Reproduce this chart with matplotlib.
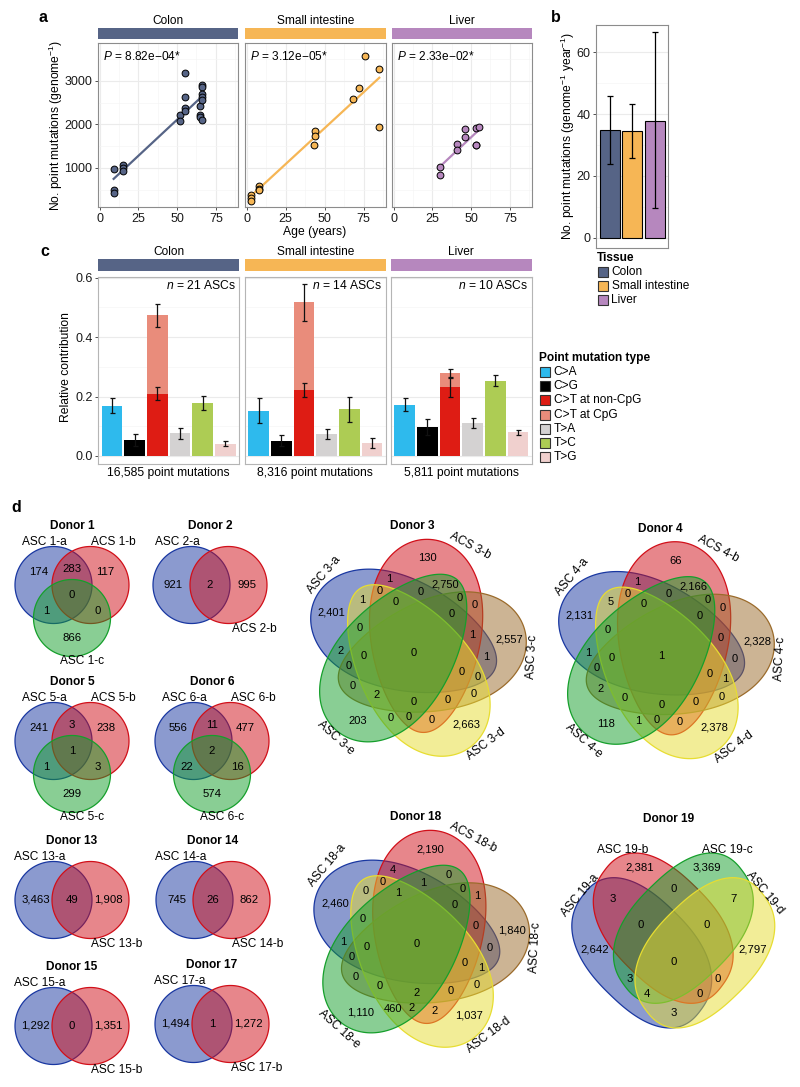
import numpy as np
import matplotlib
matplotlib.use('Agg')
import matplotlib.pyplot as plt
from matplotlib.patches import Polygon, Rectangle
from matplotlib.colors import to_rgba

plt.rcParams['font.family'] = ['Liberation Sans', 'DejaVu Sans']
plt.rcParams['mathtext.fontset'] = 'custom'
plt.rcParams['mathtext.rm'] = 'Liberation Sans'
plt.rcParams['mathtext.it'] = 'Liberation Sans:italic'
plt.rcParams['mathtext.bf'] = 'Liberation Sans:bold'

W, H = 800, 1087

# ---------------- data ----------------
tissues = ['Colon', 'Small intestine', 'Liver']
tissue_colors = ['#566486', '#F6B655', '#B687BE']
p_values = ['8.82e\u221204*', '3.12e\u221205*', '2.33e\u221202*']

# panel a: age vs number of point mutations per ASC
colon_age = [9, 9, 9, 15, 15, 15, 52, 52, 55, 55, 55, 55, 65, 65, 65, 66, 66, 66, 66, 66, 66]
colon_muts = [977, 504, 428, 1060, 990, 920, 2220, 2070, 3175, 2625, 2375, 2300,
              2427, 2221, 2168, 2908, 2855, 2702, 2641, 2565, 2107]
si_age = [3, 3, 3, 8, 8, 8, 43, 44, 44, 68, 72, 76, 85, 85]
si_muts = [389, 313, 252, 580, 527, 489, 1534, 1840, 1740, 2588, 2847, 3580, 3267, 1939]
liver_age = [30, 30, 41, 41, 46, 46, 53, 53, 53, 55]
liver_muts = [1015, 847, 1550, 1405, 1893, 1710, 1916, 1534, 1520, 1931]

# panel b: mutations per genome per year
rate_mean = [34.7, 34.4, 37.9]
rate_low = [23.8, 25.8, 9.6]
rate_high = [45.7, 43.2, 66.4]

# panel c: relative contribution of point mutation types
mut_types = ['C>A', 'C>G', 'C>T at non-CpG', 'C>T at CpG', 'T>A', 'T>C', 'T>G']
mut_colors = ['#2EBAED', '#000000', '#DE1C14', '#E98C7B', '#D4D2D2', '#ADCC54', '#F0D0CE']
n_ascs = [21, 14, 10]
n_point_muts = [16585, 8316, 5811]
colon_contrib = [0.169, 0.054, 0.209, 0.264, 0.076, 0.178, 0.042]
colon_sd = [0.025, 0.019, 0.022, 0.040, 0.018, 0.023, 0.010]
si_contrib = [0.153, 0.052, 0.222, 0.295, 0.073, 0.157, 0.043]
si_sd = [0.041, 0.019, 0.025, 0.063, 0.017, 0.042, 0.016]
liver_contrib = [0.172, 0.097, 0.231, 0.048, 0.112, 0.254, 0.080]
liver_sd = [0.022, 0.027, 0.033, 0.013, 0.017, 0.019, 0.008]

# panel d: shared mutations between ASCs of one donor
REG2 = ['A', 'B', 'AB']
REG3 = ['A', 'B', 'C', 'AB', 'AC', 'BC', 'ABC']
REG4 = ['A', 'B', 'C', 'D', 'AB', 'AC', 'AD', 'BC', 'BD', 'CD',
        'ABC', 'ABD', 'ACD', 'BCD', 'ABCD']
REG5 = ['A', 'B', 'C', 'D', 'E', 'AB', 'AC', 'AD', 'AE', 'BC', 'BD', 'BE', 'CD', 'CE', 'DE',
        'ABC', 'ABD', 'ABE', 'ACD', 'ACE', 'ADE', 'BCD', 'BCE', 'BDE', 'CDE',
        'ABCD', 'ABCE', 'ABDE', 'ACDE', 'BCDE', 'ABCDE']

donor1_sets = ['ASC 1-a', 'ACS 1-b', 'ASC 1-c']
donor1_counts = [174, 117, 866, 283, 1, 0, 0]
donor2_sets = ['ASC 2-a', 'ACS 2-b']
donor2_counts = [921, 995, 2]
donor5_sets = ['ASC 5-a', 'ACS 5-b', 'ASC 5-c']
donor5_counts = [241, 238, 299, 3, 1, 3, 1]
donor6_sets = ['ASC 6-a', 'ASC 6-b', 'ASC 6-c']
donor6_counts = [556, 477, 574, 11, 22, 16, 2]
donor13_sets = ['ASC 13-a', 'ASC 13-b']
donor13_counts = [3463, 1908, 49]
donor14_sets = ['ASC 14-a', 'ASC 14-b']
donor14_counts = [745, 862, 26]
donor15_sets = ['ASC 15-a', 'ASC 15-b']
donor15_counts = [1292, 1351, 0]
donor17_sets = ['ASC 17-a', 'ASC 17-b']
donor17_counts = [1494, 1272, 1]
donor3_sets = ['ASC 3-a', 'ACS 3-b', 'ASC 3-c', 'ASC 3-d', 'ASC 3-e']
donor3_counts = [2401, 130, 2557, 2663, 203, 1, 1, 1, 2, 0, 0, 2750, 0, 0, 0,
                 1, 0, 0, 0, 0, 0, 0, 0, 0, 2, 0, 0, 0, 0, 0, 0]
donor4_sets = ['ASC 4-a', 'ACS 4-b', 'ASC 4-c', 'ASC 4-d', 'ASC 4-e']
donor4_counts = [2131, 66, 2328, 2378, 118, 1, 0, 5, 1, 0, 0, 2166, 0, 2, 1,
                 0, 0, 0, 1, 0, 0, 0, 0, 0, 0, 0, 0, 0, 0, 0, 1]
donor18_sets = ['ASC 18-a', 'ACS 18-b', 'ASC 18-c', 'ASC 18-d', 'ASC 18-e']
donor18_counts = [2460, 2190, 1840, 1037, 1110, 4, 0, 0, 1, 1, 2, 0, 0, 0, 460,
                  0, 0, 1, 1, 0, 0, 0, 0, 2, 0, 0, 0, 1, 0, 2, 0]
donor19_sets = ['ASC 19-a', 'ASC 19-b', 'ASC 19-c', 'ASC 19-d']
donor19_counts = [2642, 2381, 3369, 2797, 3, 3, 3, 0, 0, 7, 0, 0, 4, 0, 0]

VBLUE, VRED, VGREEN, VYELLOW, VBROWN = '#1937A1', '#D10F19', '#159F2B', '#E7DD31', '#9B6B2B'

# ---------------- helpers ----------------
fig = plt.figure(figsize=(W / 100, H / 100), dpi=100)
ov = fig.add_axes([0, 0, 1, 1])
ov.set_xlim(0, W)
ov.set_ylim(H, 0)
ov.axis('off')


def px_axes(x0, y0, x1, y1):
    return fig.add_axes([x0 / W, 1 - y1 / H, (x1 - x0) / W, (y1 - y0) / H])


def facet_style(ax, border, xgrid=True):
    for s in ax.spines.values():
        s.set_color(border)
        s.set_linewidth(0.8)
    ax.tick_params(which='major', length=2.5, width=0.6, color='#333333',
                   labelsize=9.0, labelcolor='#1A1A1A', pad=1.5)
    ax.tick_params(which='minor', length=0)
    ax.grid(True, which='major', axis='both' if xgrid else 'y', color='#EBEBEB', lw=0.8)
    ax.grid(True, which='minor', axis='both' if xgrid else 'y', color='#F5F5F5', lw=0.5)
    ax.set_axisbelow(True)


def strip(x0, x1, y0, y1, color, label, text_y):
    sax = px_axes(x0, y0, x1, y1)
    sax.set_facecolor(color)
    sax.set_xticks([])
    sax.set_yticks([])
    for s in sax.spines.values():
        s.set_visible(False)
    ov.text((x0 + x1) / 2, text_y, label, ha='center', va='center', fontsize=8.6)


def legend_block(x, y, title, labels, colors, step):
    ov.text(x - 1, y, title, ha='left', va='center', fontsize=8.6, fontweight='bold')
    for j, (lab, col) in enumerate(zip(labels, colors)):
        yy = y + 14 + j * step
        ov.add_patch(Rectangle((x, yy - 5), 10, 10, fc=col, ec='#333333', lw=0.8))
        ov.text(x + 13.5, yy, lab, ha='left', va='center', fontsize=8.6)


# shapes: (cx, cy, a, b, angle, exponent, egg) -- egg widens the +u end
def shape_outline(s, n=300):
    cx, cy, a, b, ang, p, k = s
    t = np.linspace(0, 2 * np.pi, n)
    c, si = np.cos(t), np.sin(t)
    u = a * np.sign(c) * np.abs(c) ** (2 / p)
    v = b * np.sign(si) * np.abs(si) ** (2 / p) * (1 + k * u / a)
    r = np.deg2rad(ang)
    return cx + u * np.cos(r) - v * np.sin(r), cy + u * np.sin(r) + v * np.cos(r)


def shape_inside(s, X, Y):
    cx, cy, a, b, ang, p, k = s
    r = np.deg2rad(ang)
    dx, dy = X - cx, Y - cy
    u = dx * np.cos(r) + dy * np.sin(r)
    v = -dx * np.sin(r) + dy * np.cos(r)
    v = v / (1 + k * np.clip(u / a, -1, 1))
    return np.abs(u / a) ** p + np.abs(v / b) ** p < 1


def depth_map(lab):
    cur = lab > 0
    depth = np.zeros(lab.shape, int)
    step = 0
    while cur.any():
        step += 1
        depth[cur] = step
        nxt = cur.copy()
        for d in ((0, 1), (0, -1), (1, 0), (-1, 0), (1, 1), (1, -1), (-1, 1), (-1, -1)):
            nxt &= np.roll(cur, d, axis=(0, 1)) & (np.roll(lab, d, axis=(0, 1)) == lab)
        cur = nxt
    return depth


def venn_axes(cx, cy, hw, hh):
    ax = px_axes(cx - hw, cy - hh, cx + hw, cy + hh)
    ax.set_xlim(-hw, hw)
    ax.set_ylim(-hh, hh)
    ax.axis('off')
    return ax


def draw_venn(ax, shapes, cols, codes, counts, origin=(0, 0), scale=(1, 1), fs=8.2):
    ox, oy = origin
    sx, sy = scale
    for s, c in zip(shapes, cols):
        gx, gy = shape_outline(s)
        ax.add_patch(Polygon(np.c_[(gx - ox) * sx, (gy - oy) * sy], closed=True,
                             fc=to_rgba(c, 0.5), ec=c, lw=0.9))
    x0, x1 = ax.get_xlim()
    y0, y1 = ax.get_ylim()
    X, Y = np.meshgrid(np.arange(x0, x1, 0.5), np.arange(y0, y1, 0.5))
    GX, GY = X / sx + ox, Y / sy + oy
    lab = np.zeros(X.shape, int)
    for k, s in enumerate(shapes):
        lab |= shape_inside(s, GX, GY).astype(int) << k
    depth = depth_map(lab)
    for code, cnt in zip(codes, counts):
        bits = sum(1 << 'ABCDE'.index(ch) for ch in code)
        m = lab == bits
        if not m.any():
            continue
        top = m & (depth == depth[m].max())
        mx, my = X[top].mean(), Y[top].mean()
        i = np.argmin(np.where(top, (X - mx) ** 2 + (Y - my) ** 2, np.inf))
        ax.text(X.flat[i], Y.flat[i], f'{cnt:,}', ha='center', va='center', fontsize=fs)


# ---------------- panel a ----------------
facet_x = [(98, 238), (245, 386), (392, 532)]
ages = [colon_age, si_age, liver_age]
muts = [colon_muts, si_muts, liver_muts]
for i in range(3):
    x0, x1 = facet_x[i]
    ax = px_axes(x0, 43, x1, 207)
    facet_style(ax, '#8C8C8C')
    ax.set_xlim(-1.1, 89.3)
    ax.set_ylim(103, 3873)
    ax.set_xticks([0, 25, 50, 75])
    ax.set_xticks([12.5, 37.5, 62.5, 87.5], minor=True)
    ax.set_yticks([1000, 2000, 3000])
    ax.set_yticks([500, 1500, 2500, 3500], minor=True)
    if i > 0:
        ax.tick_params(axis='y', which='major', labelleft=False, length=0)
    x = np.array(ages[i], float)
    y = np.array(muts[i], float)
    k, b = np.polyfit(x, y, 1)
    xx = np.array([x.min(), x.max()])
    ax.plot(xx, k * xx + b, color=tissue_colors[i], lw=1.6, zorder=2)
    ax.scatter(x, y, s=24, c=tissue_colors[i], edgecolors='black', linewidths=0.7, zorder=3)
    ax.text(0.036, 0.915, r'$P$ = ' + p_values[i], transform=ax.transAxes,
            fontsize=8.6, va='center', ha='left')
    strip(x0, x1, 28, 39, tissue_colors[i], tissues[i], 21)

ov.text(56, 125, r'No. point mutations (genome$^{-1}$)', rotation=90,
        ha='center', va='center', fontsize=8.7)
ov.text(315, 232, 'Age (years)', ha='center', va='center', fontsize=8.7)

# ---------------- panel b ----------------
ax = px_axes(596, 25, 668.3, 248.3)
facet_style(ax, '#8C8C8C', xgrid=False)
ax.set_xlim(0.39, 3.6)
ax.set_ylim(-3.4, 68.8)
xb = np.arange(1, 4)
mean = np.array(rate_mean)
ax.bar(xb, mean, width=0.87, color=tissue_colors, edgecolor='black', linewidth=0.8, zorder=2)
ax.errorbar(xb, mean, yerr=[mean - np.array(rate_low), np.array(rate_high) - mean],
            fmt='none', ecolor='black', elinewidth=0.9, capsize=2.2, capthick=0.9, zorder=3)
ax.set_xticks([])
ax.set_yticks([0, 20, 40, 60])
ax.set_yticks([10, 30, 50], minor=True)
ov.text(568, 136, r'No. point mutations (genome$^{-1}$ year$^{-1}$)', rotation=90,
        ha='center', va='center', fontsize=8.7)
legend_block(598, 258, 'Tissue', tissues, tissue_colors, 14.2)

# ---------------- panel c ----------------
c_facet_x = [(98.3, 239), (245, 385.7), (391, 531.7)]
contribs = [colon_contrib, si_contrib, liver_contrib]
sds = [colon_sd, si_sd, liver_sd]
bar_pos = [1, 2, 3, 3, 4, 5, 6]
for i in range(3):
    x0, x1 = c_facet_x[i]
    ax = px_axes(x0, 276.7, x1, 464.3)
    facet_style(ax, '#B5B5B5', xgrid=False)
    ax.set_xlim(0.4, 6.6)
    ax.set_ylim(-0.028, 0.6035)
    vals = np.array(contribs[i])
    bottoms = np.zeros(7)
    bottoms[3] = vals[2]
    ax.bar(bar_pos, vals, bottom=bottoms, width=0.91, color=mut_colors, zorder=2)
    tops = bottoms + vals
    ax.errorbar(bar_pos, tops, yerr=sds[i], fmt='none', ecolor='#111111',
                elinewidth=0.9, capsize=1.8, capthick=0.9, zorder=3)
    ax.set_xticks([])
    ax.set_yticks([0.0, 0.2, 0.4, 0.6])
    ax.set_yticks([0.1, 0.3, 0.5], minor=True)
    ax.set_yticklabels(['0.0', '0.2', '0.4', '0.6'])
    if i > 0:
        ax.tick_params(axis='y', which='major', labelleft=False, length=0)
    ax.text(0.975, 0.955, r'$n$ = %d ASCs' % n_ascs[i], transform=ax.transAxes,
            ha='right', va='center', fontsize=8.7)
    strip(x0, x1, 259, 271, tissue_colors[i], tissues[i], 252)
    ov.text((x0 + x1) / 2, 473, f'{n_point_muts[i]:,} point mutations',
            ha='center', va='center', fontsize=8.7)

ov.text(66, 367, 'Relative contribution', rotation=90, ha='center', va='center', fontsize=8.7)
legend_block(540, 358, 'Point mutation type', mut_types, mut_colors, 14.2)

# ---------------- panel d ----------------
R = 38.5


def venn2(cx, cy, title, sets, counts):
    ax = venn_axes(cx, cy, 62, 50)
    shapes = [(-18.5, 0, R, R, 0, 2, 0), (18.5, 0, R, R, 0, 2, 0)]
    draw_venn(ax, shapes, [VBLUE, VRED], REG2, counts)
    ax.text(0, 59, title, ha='center', va='center', fontsize=8.6, fontweight='bold')
    ax.text(-18.5 - 14, 43, sets[0], ha='center', va='center', fontsize=8.6)
    ax.text(18.5 + 26, -44, sets[1], ha='center', va='center', fontsize=8.6)


def venn3(cx, cy, title, sets, counts):
    ax = venn_axes(cx, cy, 66, 70)
    shapes = [(-18.5, 11, R, R, 0, 2, 0), (18.5, 11, R, R, 0, 2, 0), (0, -22, R, R, 0, 2, 0)]
    draw_venn(ax, shapes, [VBLUE, VRED, VGREEN], REG3, counts)
    ax.text(0, 70, title, ha='center', va='center', fontsize=8.6, fontweight='bold')
    ax.text(-18.5 - 9, 54, sets[0], ha='center', va='center', fontsize=8.6)
    ax.text(18.5 + 23, 54, sets[1], ha='center', va='center', fontsize=8.6)
    ax.text(10, -65, sets[2], ha='center', va='center', fontsize=8.6)


# five-set layout: five congruent egg-shaped ellipses, 72 degrees apart
SHAPES5 = []
for i in range(5):
    th = np.deg2rad(124.9 - 72 * i)
    SHAPES5.append((0.0814 * np.cos(th), 0.0814 * np.sin(th), 0.435, 0.25,
                    np.rad2deg(th) + 35.5, 2, 0.2))
LAB5_ANG = [140, 62, -3, -53, 228]


def venn5(cx, cy, title, sets, counts):
    ax = venn_axes(cx, cy, 125, 125)
    draw_venn(ax, SHAPES5, [VBLUE, VRED, VBROWN, VYELLOW, VGREEN], REG5, counts,
              origin=(0, 0), scale=(222, 222), fs=8.0)
    ax.text(-2, 124, title, ha='center', va='center', fontsize=8.6, fontweight='bold')
    for name, ang in zip(sets, LAB5_ANG):
        r = np.deg2rad(ang)
        rot = (ang - 90 + 90) % 180 - 90
        ax.text(118 * np.cos(r), 118 * np.sin(r), name, rotation=rot, rotation_mode='anchor',
                ha='center', va='center', fontsize=8.6)


SHAPES4 = [(0.35, 0.4, 0.36, 0.225, 140, 2.4, 0), (0.45, 0.5, 0.36, 0.225, 140, 2.4, 0),
           (0.544, 0.5, 0.36, 0.225, 40, 2.4, 0), (0.644, 0.4, 0.36, 0.225, 40, 2.4, 0)]


def venn4(cx, cy, title, sets, counts):
    ax = venn_axes(cx, cy, 115, 100)
    draw_venn(ax, SHAPES4, [VBLUE, VRED, VGREEN, VYELLOW], REG4, counts,
              origin=(0.497, 0.45), scale=(214.6, 246.5))
    ax.text(-5, 121.5, title, ha='center', va='center', fontsize=8.6, fontweight='bold')
    ax.text(-93, 45.5, sets[0], rotation=50, rotation_mode='anchor', ha='center', va='center', fontsize=8.6)
    ax.text(-51, 90.5, sets[1], ha='center', va='center', fontsize=8.6)
    ax.text(54, 90.5, sets[2], ha='center', va='center', fontsize=8.6)
    ax.text(92, 47.5, sets[3], rotation=-50, rotation_mode='anchor', ha='center', va='center', fontsize=8.6)


venn3(72, 596, 'Donor 1', donor1_sets, donor1_counts)
venn2(210, 585, 'Donor 2', donor2_sets, donor2_counts)
venn3(72, 752, 'Donor 5', donor5_sets, donor5_counts)
venn3(212, 752, 'Donor 6', donor6_sets, donor6_counts)
venn2(72, 900, 'Donor 13', donor13_sets, donor13_counts)
venn2(213, 900, 'Donor 14', donor14_sets, donor14_counts)
venn2(72, 1026, 'Donor 15', donor15_sets, donor15_counts)
venn2(212, 1024, 'Donor 17', donor17_sets, donor17_counts)
venn5(414.7, 650.3, 'Donor 3', donor3_sets, donor3_counts)
venn5(662.7, 652.7, 'Donor 4', donor4_sets, donor4_counts)
venn5(417.9, 941.3, 'Donor 18', donor18_sets, donor18_counts)
venn4(673.3, 940.5, 'Donor 19', donor19_sets, donor19_counts)

# panel letters
for letter, (lx, ly) in zip('abcd', [(43, 18), (556, 17), (45, 251), (16, 507)]):
    ov.text(lx, ly, letter, ha='center', va='center', fontsize=11.5, fontweight='bold')

fig.savefig('out.png', dpi=100)
